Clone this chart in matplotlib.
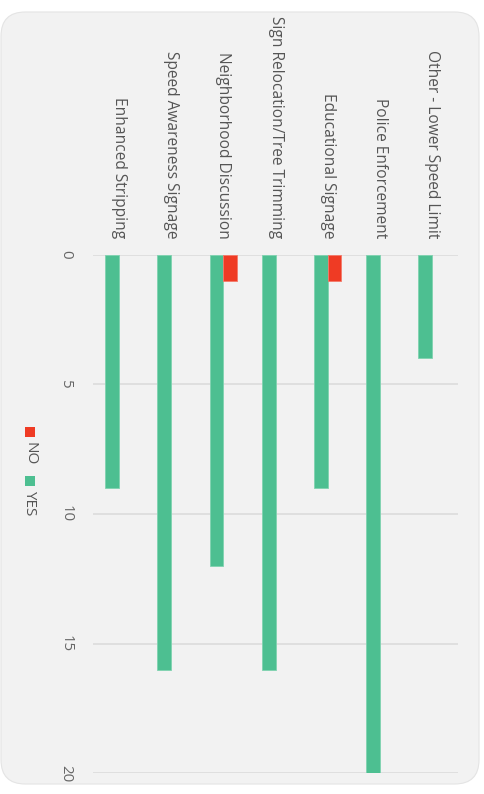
import matplotlib
matplotlib.use("Agg")
import matplotlib.pyplot as plt
from matplotlib.patches import FancyBboxPatch, Rectangle
import numpy as np

categories = ["Enhanced Stripping", "Speed Awareness Signage", "Neighborhood Discussion",
              "Sign Relocation/Tree Trimming", "Educational Signage", "Police Enforcement",
              "Other - Lower Speed Limit"]
yes_values = [9, 16, 12, 16, 9, 20, 4]
no_values = [0, 0, 1, 0, 1, 0, 0]
value_ticks = [0, 5, 10, 15, 20]
series_names = ["NO", "YES"]
colors = {"YES": "#4dbf91", "NO": "#ef3b24"}

W, H = 484, 794
fig = plt.figure(figsize=(W / 100, H / 100), dpi=100)
fig.patch.set_facecolor("white")

# rounded card background
card = FancyBboxPatch((1 / W, (H - 784) / H), (478 / W), (772 / H),
                      boxstyle="round,pad=0,rounding_size=0.05",
                      transform=fig.transFigure, facecolor="#f2f2f2",
                      edgecolor="#e4e4e4", linewidth=0.8, mutation_aspect=W / H,
                      zorder=-5)
fig.patches.append(card)

ax = fig.add_axes([93 / W, (H - 773.3) / H, (458 - 93) / W, (773.3 - 254.7) / H])
ax.set_facecolor("none")
ax.set_zorder(2)

x = np.arange(len(categories))
bw = 0.265
ax.bar(x - bw / 2, yes_values, width=bw, color=colors["YES"], edgecolor="#7fd3b0",
       linewidth=0.6, zorder=3)
no_x = [xi + bw / 2 for xi, v in zip(x, no_values) if v > 0]
no_v = [v for v in no_values if v > 0]
ax.bar(no_x, no_v, width=bw, color=colors["NO"], edgecolor="#f47a6a",
       linewidth=0.6, zorder=3)

ax.set_xlim(-0.5, len(categories) - 0.5)
ax.set_ylim(20, 0)
ax.set_yticks(value_ticks)
ax.grid(axis="y", color="#dcdcdc", linewidth=1.2, zorder=0)
for s in ax.spines.values():
    s.set_visible(False)
ax.tick_params(length=0)
ax.set_yticklabels([str(v) for v in value_ticks], rotation=-90, fontsize=10.8,
                   color="#666666", family="Open Sans", va="center", ha="center")
ax.tick_params(axis="y", pad=19.5)
ax.set_xticks([])

for xi, name in zip(x, categories):
    ax.text(xi, -0.62, name, rotation=-90, ha="center", va="bottom", fontsize=11.2,
            color="#555555", family="Open Sans", transform=ax.transData, clip_on=False)

# legend (rotated)
lx = 29.5 / W
items = [("NO", 431.5, 442), ("YES", 481, 490)]
for name, sq_y, txt_y in items:
    fig.patches.append(Rectangle((lx - 5 / W, (H - sq_y - 5) / H), 10 / W, 10 / H,
                                 transform=fig.transFigure, facecolor=colors[name],
                                 edgecolor="none", zorder=3))
    fig.text(lx, (H - txt_y) / H, name, rotation=-90, ha="center", va="top",
             fontsize=11, color="#555555", family="Open Sans")

fig.savefig("out.png", dpi=100, facecolor="white")
